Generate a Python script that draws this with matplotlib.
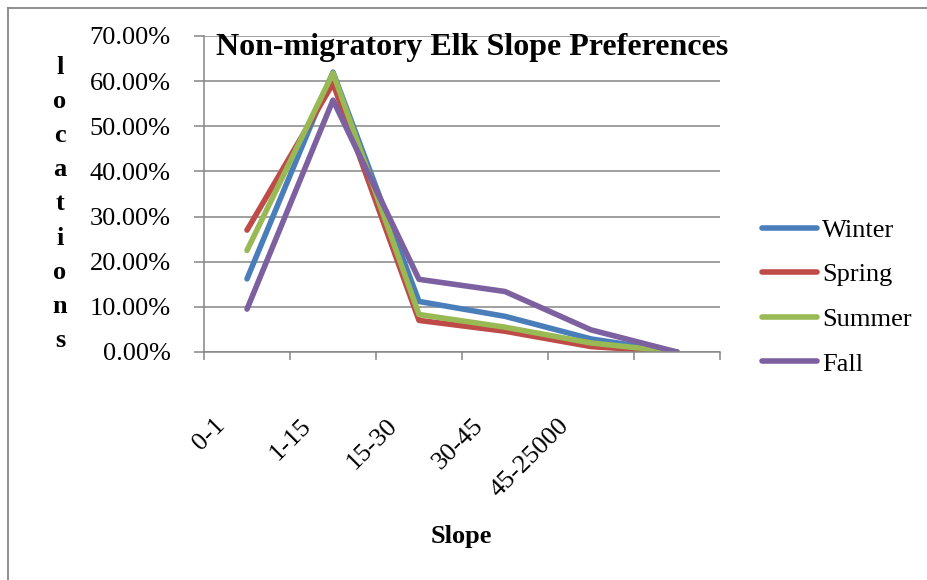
import matplotlib.pyplot as plt
import matplotlib.transforms as mtransforms
from matplotlib.lines import Line2D
from matplotlib.ticker import PercentFormatter

plt.rcParams['font.family'] = ['Liberation Serif', 'DejaVu Serif']

categories = ['0-1', '1-15', '15-30', '30-45', '45-25000', '']
winter = [16.2, 62.0, 11.2, 7.9, 2.9, 0.0]
spring = [27.0, 59.5, 7.0, 4.6, 1.2, 0.0]
summer = [22.5, 61.8, 8.3, 5.5, 2.0, 0.0]
fall = [9.5, 55.8, 16.1, 13.4, 4.9, 0.0]
series = [('Winter', winter, '#4a7ebb'), ('Spring', spring, '#be4b48'),
          ('Summer', summer, '#98b954'), ('Fall', fall, '#7d60a0')]

fig = plt.figure(figsize=(9.27, 5.8), dpi=100)
ax = fig.add_axes([204 / 927, 1 - 352 / 580, 516 / 927, 316 / 580])

x = list(range(len(categories)))
for name, vals, col in series:
    ax.plot(x, vals, color=col, lw=4.0, label=name, solid_capstyle='round',
            solid_joinstyle='round')

grey = '#868686'
ax.set_ylim(0, 70)
ax.set_xlim(-0.5, len(categories) - 0.5)
ax.set_yticks(range(0, 71, 10))
ax.yaxis.set_major_formatter(PercentFormatter(decimals=2))
ax.grid(axis='y', color=grey, lw=1.1)
ax.set_axisbelow(True)
for s in ['top', 'right']:
    ax.spines[s].set_visible(False)
for s in ['left', 'bottom']:
    ax.spines[s].set_color(grey)
    ax.spines[s].set_linewidth(1.1)
ax.tick_params(axis='y', length=7, color=grey, width=1.1, pad=17, labelsize=19)

# tick marks at category boundaries, labels at centres
ax.set_xticks([i - 0.5 for i in range(len(categories) + 1)], minor=True)
ax.tick_params(axis='x', which='minor', length=6, color=grey, width=1.1)
ax.set_xticks(x[:5])
ax.set_xticklabels(categories[:5], rotation=45, ha='right', va='center',
                   rotation_mode='anchor', fontsize=19)
ax.tick_params(axis='x', which='major', length=0, pad=0)
off = mtransforms.ScaledTranslation(-25 / 100, -70 / 100, fig.dpi_scale_trans)
for lab in ax.get_xticklabels():
    lab.set_transform(lab.get_transform() + off)

fig.text(472 / 927, 1 - 47 / 580, 'Non-migratory Elk Slope Preferences',
         ha='center', va='center', fontsize=23, fontweight='bold')
fig.text(461 / 927, 1 - 536 / 580, 'Slope', ha='center', va='center',
         fontsize=19, fontweight='bold')
fig.text(60 / 927, 1 - 204 / 580, '\n'.join('locations'), ha='center',
         va='center', fontsize=19, fontweight='bold', linespacing=1.62)

ax.legend(loc='center left', bbox_to_anchor=(738 / 927, 1 - 297 / 580),
          bbox_transform=fig.transFigure, frameon=False, fontsize=19,
          handlelength=2.1, handletextpad=0.2, labelspacing=0.8)

fig.add_artist(Line2D([8 / 927, 1], [1 - 8 / 580, 1 - 8 / 580],
                      transform=fig.transFigure, color=grey, lw=1.3))
fig.add_artist(Line2D([8 / 927, 8 / 927], [0, 1 - 8 / 580],
                      transform=fig.transFigure, color=grey, lw=1.3))

fig.savefig('out.png', dpi=100)
